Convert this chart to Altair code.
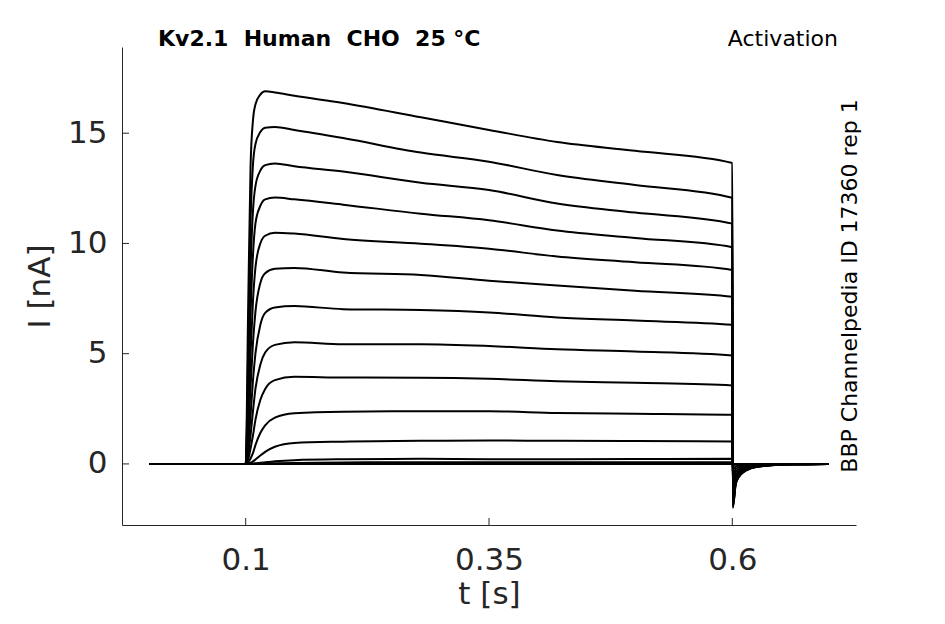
import altair as alt
import pandas as pd

# ---------------- data ----------------
time_s = [0.001, 0.1, 0.1025, 0.105, 0.1075, 0.11, 0.115, 0.12, 0.13, 0.15, 0.2,
          0.28, 0.35, 0.42, 0.5, 0.6, 0.6005, 0.6037, 0.61, 0.62, 0.634, 0.66, 0.699]

trace_01 = [0, 0, 7.0, 13.5, 15.6, 16.3, 16.75, 16.9, 16.85, 16.7, 16.37, 15.72, 15.15, 14.6, 14.2, 13.65, -2.0, -0.87, -0.42, -0.19, -0.08, -0.02, 0]
trace_02 = [0, 0, 5.0, 11.0, 13.6, 14.5, 15.05, 15.25, 15.28, 15.15, 14.78, 14.12, 13.71, 13.1, 12.65, 12.07, -1.95, -0.85, -0.41, -0.18, -0.08, -0.02, 0]
trace_03 = [0, 0, 3.8, 8.8, 11.5, 12.6, 13.3, 13.55, 13.63, 13.5, 13.26, 12.75, 12.42, 11.81, 11.4, 10.9, -1.9, -0.83, -0.40, -0.18, -0.08, -0.02, 0]
trace_04 = [0, 0, 2.8, 6.8, 9.5, 10.9, 11.7, 12.0, 12.08, 12.0, 11.76, 11.35, 11.05, 10.59, 10.25, 9.83, -1.8, -0.78, -0.38, -0.17, -0.07, -0.02, 0]
trace_05 = [0, 0, 2.0, 5.0, 7.4, 8.9, 10.0, 10.35, 10.49, 10.45, 10.2, 9.99, 9.76, 9.41, 9.15, 8.8, -1.7, -0.74, -0.36, -0.16, -0.07, -0.02, 0]
trace_06 = [0, 0, 1.3, 3.5, 5.5, 6.9, 8.2, 8.65, 8.85, 8.89, 8.68, 8.57, 8.31, 8.09, 7.85, 7.58, -1.55, -0.67, -0.33, -0.15, -0.06, -0.02, 0]
trace_07 = [0, 0, 0.8, 2.2, 3.8, 5.0, 6.3, 6.85, 7.1, 7.16, 7.02, 6.98, 6.87, 6.64, 6.5, 6.31, -1.35, -0.59, -0.28, -0.13, -0.05, -0.01, 0]
trace_08 = [0, 0, 0.4, 1.3, 2.4, 3.4, 4.5, 5.05, 5.4, 5.52, 5.43, 5.43, 5.35, 5.2, 5.1, 4.92, -1.1, -0.48, -0.23, -0.10, -0.04, -0.01, 0]
trace_09 = [0, 0, 0.2, 0.7, 1.3, 2.0, 2.9, 3.4, 3.8, 3.95, 3.92, 3.91, 3.86, 3.75, 3.68, 3.56, -0.8, -0.35, -0.17, -0.08, -0.03, -0.01, 0]
trace_10 = [0, 0, 0.08, 0.25, 0.5, 0.85, 1.4, 1.75, 2.1, 2.3, 2.37, 2.39, 2.39, 2.31, 2.28, 2.23, -0.5, -0.22, -0.10, -0.05, -0.02, 0, 0]
trace_11 = [0, 0, 0.02, 0.06, 0.12, 0.2, 0.38, 0.55, 0.78, 0.95, 1.01, 1.05, 1.06, 1.05, 1.04, 1.02, -0.25, -0.11, -0.05, -0.02, -0.01, 0, 0]
trace_12 = [0, 0, 0, 0.01, 0.02, 0.03, 0.05, 0.08, 0.12, 0.17, 0.21, 0.23, 0.21, 0.21, 0.22, 0.24, -0.06, -0.03, -0.01, 0, 0, 0, 0]
trace_13 = [0, 0, 0, 0, 0, 0.01, 0.01, 0.02, 0.03, 0.04, 0.07, 0.08, 0.08, 0.08, 0.08, 0.08, -0.02, -0.01, 0, 0, 0, 0, 0]
trace_14 = [0, 0, 0, 0, 0, 0, 0, 0, 0, 0, 0, 0, 0, 0, 0, 0, 0, 0, 0, 0, 0, 0, 0]

traces = [trace_01, trace_02, trace_03, trace_04, trace_05, trace_06, trace_07,
          trace_08, trace_09, trace_10, trace_11, trace_12, trace_13, trace_14]

x_ticks = [0.1, 0.35, 0.6]
y_ticks = [0, 5, 10, 15]

NB = "\u00a0"
title_left = f"Kv2.1{NB} Human{NB} CHO{NB} 25 °C"
title_right = "Activation"
side_label = "BBP Channelpedia ID 17360 rep 1"

# ---------------- build table ----------------
rows = []
for k, tr in enumerate(traces):
    for i, (t, v) in enumerate(zip(time_s, tr)):
        rows.append({"t": t, "I": v, "trace": k, "idx": i})
df = pd.DataFrame(rows)

W, H = 734, 478
FONT = "DejaVu Sans"
GREY = "#262626"

x_scale = alt.Scale(domain=[-0.0271, 0.7271], nice=False, zero=False)
y_scale = alt.Scale(domain=[-2.77, 18.91], nice=False, zero=False)

x_axis = alt.Axis(values=x_ticks, format=".2~f", title="t [s]", ticks=False,
                  labelPadding=20, titleBaseline="alphabetic", titleY=78,
                  titleX=W / 2)
y_axis = alt.Axis(values=y_ticks, format="d", title="I [nA]", ticks=False,
                  labelPadding=15, titleBaseline="alphabetic", titleX=-73,
                  titleY=H / 2, titleAngle=-90)

lines = alt.Chart(df).mark_line(color="black", strokeWidth=2, interpolate="monotone").encode(
    x=alt.X("t:Q", scale=x_scale, axis=x_axis),
    y=alt.Y("I:Q", scale=y_scale, axis=y_axis),
    detail="trace:N",
    order="idx:Q",
)

xt = pd.DataFrame({"t": x_ticks})
yt = pd.DataFrame({"I": y_ticks})

x_tick_marks = alt.Chart(xt).mark_rule(color=GREY, strokeWidth=1).encode(
    x=alt.X("t:Q", scale=x_scale, axis=x_axis),
    y=alt.value(H), y2=alt.value(H - 7),
)
y_tick_marks = alt.Chart(yt).mark_rule(color=GREY, strokeWidth=1).encode(
    y=alt.Y("I:Q", scale=y_scale, axis=y_axis),
    x=alt.value(0), x2=alt.value(7),
)

t_left = alt.Chart(pd.DataFrame({"label": [title_left]})).mark_text(
    font=FONT, fontSize=22, fontWeight="bold", align="left", baseline="alphabetic", color="black"
).encode(x=alt.value(36), y=alt.value(-1), text="label:N")

t_right = alt.Chart(pd.DataFrame({"label": [title_right]})).mark_text(
    font=FONT, fontSize=22, align="right", baseline="alphabetic", color="black"
).encode(x=alt.value(716), y=alt.value(-1), text="label:N")

t_side = alt.Chart(pd.DataFrame({"label": [side_label]})).mark_text(
    font=FONT, fontSize=22, align="center", baseline="alphabetic", angle=270, color="black"
).encode(x=alt.value(735), y=alt.value(H / 2), text="label:N")

chart = alt.layer(lines, x_tick_marks, y_tick_marks, t_left, t_right, t_side).properties(
    width=W, height=H,
    autosize=alt.AutoSizeParams(type="none"),
    padding={"left": 114, "top": 39, "right": 60, "bottom": 87},
).configure_view(stroke=None).configure_axis(
    grid=False, domainColor=GREY, domainWidth=1,
    labelFont=FONT, labelFontSize=31, labelColor=GREY,
    titleFont=FONT, titleFontSize=31, titleFontWeight="normal", titleColor=GREY,
)

chart.save("out.html", embed_options={"renderer": "svg", "actions": False})
